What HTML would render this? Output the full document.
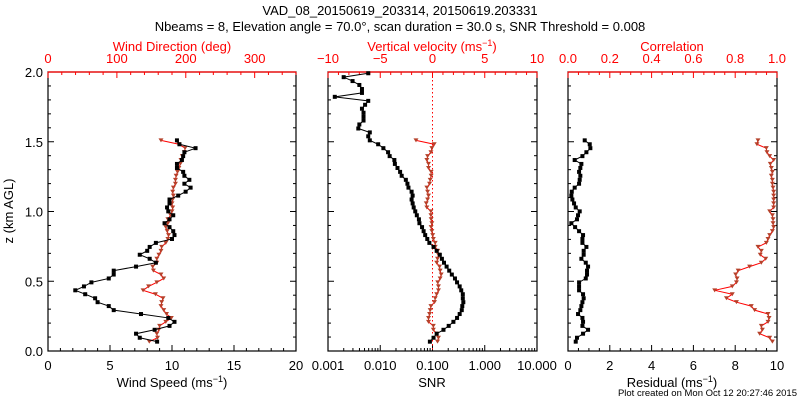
<!DOCTYPE html>
<html><head><meta charset="utf-8"><style>
body{margin:0;background:#fff;}
svg{display:block;font-family:"Liberation Sans",sans-serif;}
</style></head><body>
<svg id="chart" width="800" height="400" viewBox="0 0 800 400">
<text x="400" y="15" text-anchor="middle" font-size="13">VAD_08_20150619_203314, 20150619.203331</text>
<text x="400" y="31" text-anchor="middle" font-size="13">Nbeams = 8, Elevation angle = 70.0°, scan duration = 30.0 s, SNR Threshold = 0.008</text>
<text transform="translate(13,211) rotate(-90)" text-anchor="middle" font-size="13">z (km AGL)</text>
<text x="797" y="396" text-anchor="end" font-size="9.5">Plot created on Mon Oct 12 20:27:46 2015</text>
<g id="g"></g>
</svg>
<script>
const zLevels=[0.067,0.095,0.124,0.152,0.180,0.209,0.237,0.265,0.293,0.322,0.350,0.378,0.407,0.435,0.463,0.492,0.520,0.548,0.576,0.605,0.633,0.661,0.690,0.718,0.746,0.775,0.803,0.831,0.859,0.888,0.916,0.944,0.973,1.001,1.029,1.058,1.086,1.114,1.142,1.171,1.199,1.227,1.256,1.284,1.312,1.341,1.369,1.397,1.425,1.454,1.482,1.510,1.539,1.567,1.595,1.624,1.652,1.680,1.708,1.737,1.765,1.793,1.822,1.850,1.878,1.907,1.935,1.963,1.991];
const windSpeed=[8.8,7.4,7.1,8.6,9.8,10.2,9.7,7.5,5.3,4.9,4.0,3.8,3.0,2.2,2.9,3.5,4.9,5.3,5.3,7.1,8.7,8.2,7.4,8.0,8.2,8.7,10.0,10.2,10.1,9.8,9.4,9.8,10.1,9.7,9.6,9.8,9.8,10.5,11.1,11.5,11.0,11.4,11.0,10.9,10.4,10.4,10.8,10.9,11.0,11.9,10.6,10.4];
const windDir=[147,159,158,161,162,171,179,172,168,164,165,167,156,138,146,158,168,164,153,152,158,158,161,164,165,171,174,175,173,171,174,174,178,180,181,180,181,182,181,182,185,185,186,188,190,192,193,195,198,199,190,164];
const logSnr=[-1.05,-0.98,-0.92,-0.79,-0.69,-0.6,-0.53,-0.48,-0.44,-0.43,-0.41,-0.42,-0.42,-0.45,-0.48,-0.53,-0.57,-0.63,-0.68,-0.73,-0.78,-0.82,-0.86,-0.92,-0.98,-1.06,-1.1,-1.14,-1.17,-1.2,-1.25,-1.26,-1.3,-1.33,-1.36,-1.38,-1.4,-1.38,-1.4,-1.46,-1.48,-1.51,-1.59,-1.62,-1.67,-1.72,-1.73,-1.82,-1.85,-1.94,-2.04,-2.2,-2.23,-2.2,-2.42,-2.4,-2.32,-2.32,-2.32,-2.35,-2.29,-2.23,-2.87,-2.35,-2.35,-2.4,-2.53,-2.7,-2.23];
const vertVel=[0.48,0.57,0.4,0.08,0.08,-0.38,-0.38,-0.28,-0.22,-0.15,0.19,0.26,0.4,0.57,0.57,0.5,0.73,0.83,0.73,0.67,0.4,0.48,0.57,0.5,0.26,0.26,0.08,0.02,-0.06,-0.13,-0.06,-0.13,-0.15,-0.15,-0.54,-0.6,-0.47,-0.38,-0.47,-0.54,-0.28,-0.22,-0.13,-0.13,-0.38,-0.38,-0.54,-0.47,-0.15,-0.06,0.16,-1.58];
const residual=[0.37,0.43,0.72,0.96,0.69,0.72,0.69,0.48,0.59,0.64,0.69,0.75,0.72,0.53,0.53,0.53,0.85,0.91,0.91,0.96,0.85,0.64,0.75,0.75,0.88,0.69,0.69,0.72,0.53,0.34,0.16,0.43,0.48,0.56,0.37,0.29,0.21,0.16,0.18,0.32,0.53,0.56,0.59,0.53,0.59,0.64,0.32,0.69,0.88,1.07,1.04,0.80];
const correlation=[0.978,0.965,0.917,0.93,0.925,0.957,0.962,0.957,0.893,0.877,0.806,0.758,0.786,0.702,0.786,0.806,0.809,0.802,0.814,0.869,0.925,0.946,0.92,0.925,0.909,0.949,0.957,0.965,0.978,0.984,0.981,0.981,0.978,0.965,0.984,0.984,0.984,0.984,0.984,0.981,0.978,0.978,0.973,0.978,0.973,0.968,0.984,0.965,0.952,0.949,0.904,0.909];
const yTicks=["0.0","0.5","1.0","1.5","2.0"];
const speedTicks=["0","5","10","15","20"];
const dirTicks=["0","100","200","300"];
const vvTicks=["−10","−5","0","5","10"];
const snrTicks=["0.001","0.010","0.100","1.000","10.000"];
const corTicks=["0.0","0.2","0.4","0.6","0.8","1.0"];
const resTicks=["0","2","4","6","8","10"];

const NS="http://www.w3.org/2000/svg";
const G=document.getElementById('g');
const TOP=72,BOT=351;
const yS=z=>BOT-(z/2)*(BOT-TOP);
function el(t,a,p){const e=document.createElementNS(NS,t);for(const k in a)e.setAttribute(k,a[k]);(p||G).appendChild(e);return e;}
function lin(x0,x1,a,b){return v=>x0+(v-a)/(b-a)*(x1-x0);}
const RED="#ff0000",BR="#b5412a";

function panel(name,x0,x1){
 const b=el('rect',{x:x0,y:TOP,width:x1-x0,height:BOT-TOP,fill:'none',stroke:'#000','stroke-width':1.2});
 
 
 for(let i=0;i<=20;i++){const y=yS(i*0.1);const L=i%5==0?6:3;
  el('line',{x1:x0,x2:x0+L,y1:y,y2:y,stroke:'#000'});
  el('line',{x1:x1,x2:x1-L,y1:y,y2:y,stroke:'#000'});}
}
function xTicks(x0,x1,sc,vals,major,labels,top,color){
 vals.forEach((v,i)=>{const x=sc(v);const m=major(i);const L=m?6:3;
  if(top)el('line',{x1:x,x2:x,y1:TOP,y2:TOP+L,stroke:color});
  else el('line',{x1:x,x2:x,y1:BOT,y2:BOT-L,stroke:color});});
 labels.forEach(l=>{const t=el('text',{x:l[0],y:top?63:370,'text-anchor':'middle','font-size':13,fill:color});t.textContent=l[1];
  
  });
 if(top) el('line',{x1:x0,x2:x1,y1:TOP,y2:TOP,stroke:color,'stroke-width':1.2});
}
function title(x,y,txt,color,name,sup){
 const t=el('text',{x:x,y:y,'text-anchor':'middle','font-size':13,fill:color});
 
 
 if(sup){t.appendChild(document.createTextNode(txt+' (ms'));const s=el('tspan',{'font-size':9,dy:-5},t);s.textContent='−1';const c=el('tspan',{dy:5},t);c.textContent=')';}
 else t.textContent=txt;
}
function series(name,xs,zs,vals,lineC,markC,tri){
 const pts=vals.map((v,i)=>[xs(v),yS(zs[i])]);
 const p=el('polyline',{points:pts.map(p=>p.join(',')).join(' '),fill:'none',stroke:lineC,'stroke-width':1});
 
 
 pts.forEach(q=>{let m;
  if(tri)m=el('polygon',{points:`${q[0]-2.5},${q[1]-2} ${q[0]+2.5},${q[1]-2} ${q[0]},${q[1]+2}`,fill:markC});
  else m=el('rect',{x:q[0]-2,y:q[1]-2,width:4,height:4,fill:markC});
  
  });
}
yTicks.forEach((l,i)=>{const t=el('text',{x:43,y:yS(i*0.5)+5,'text-anchor':'end','font-size':13});t.textContent=l;
 
 });

const P1=[48,296];panel('wind-panel',P1[0],P1[1]);
const sp=lin(P1[0],P1[1],0,20),dr=lin(P1[0],P1[1],0,360);
xTicks(P1[0],P1[1],sp,[...Array(21).keys()],i=>i%5==0,speedTicks.map((l,i)=>[sp(i*5),l]),false,'#000');
xTicks(P1[0],P1[1],dr,[...Array(19).keys()].map(i=>i*20),i=>i%5==0,dirTicks.map((l,i)=>[dr(i*100),l]),true,RED);
title(172,51,'Wind Direction (deg)',RED,'wind-direction-axis-title');
title(172,387,'Wind Speed',"#000",'wind-speed-axis-title',true);
series('wind-direction',dr,zLevels,windDir,RED,BR,true);
series('wind-speed',sp,zLevels,windSpeed,'#000','#000',false);

const P2=[328,537];panel('snr-panel',P2[0],P2[1]);
const ls=lin(P2[0],P2[1],-3,1),vv=lin(P2[0],P2[1],-10,10);
const snrMinor=[];for(let d=-3;d<1;d++)for(let k=1;k<10;k++)snrMinor.push(d+Math.log10(k));snrMinor.push(1);
xTicks(P2[0],P2[1],ls,snrMinor,i=>i%9==0,snrTicks.map((l,i)=>[ls(i-3),l]),false,'#000');
xTicks(P2[0],P2[1],vv,[...Array(21).keys()].map(i=>i-10),i=>i%5==0,vvTicks.map((l,i)=>[vv(i*5-10),l]),true,RED);
el('line',{x1:vv(0),x2:vv(0),y1:TOP,y2:BOT,stroke:RED,'stroke-dasharray':'1.5,2.5'});
title(432,51,'Vertical velocity',RED,'vertical-velocity-axis-title',true);
title(432,387,'SNR','#000','snr-axis-title');
series('vertical-velocity',vv,zLevels,vertVel,RED,BR,true);
series('snr',ls,zLevels,logSnr,'#000','#000',false);

const P3=[568,777];panel('residual-panel',P3[0],P3[1]);
const rs=lin(P3[0],P3[1],0,10),cr=lin(P3[0],P3[1],0,1);
xTicks(P3[0],P3[1],rs,[...Array(21).keys()].map(i=>i*0.5),i=>i%4==0,resTicks.map((l,i)=>[rs(i*2),l]),false,'#000');
xTicks(P3[0],P3[1],cr,[...Array(21).keys()].map(i=>i*0.05),i=>i%4==0,corTicks.map((l,i)=>[cr(i*0.2),l]),true,RED);
title(672,51,'Correlation',RED,'correlation-axis-title');
title(672,387,'Residual','#000','residual-axis-title',true);
series('correlation',cr,zLevels,correlation,RED,BR,true);
series('residual',rs,zLevels,residual,'#000','#000',false);
</script>
</body></html>
